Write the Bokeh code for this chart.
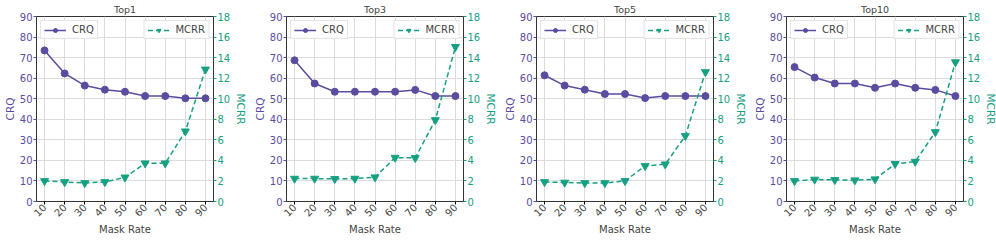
import math
from bokeh.plotting import figure
from bokeh.models import Range1d, LinearAxis, FixedTicker, Legend, LegendItem
from bokeh.layouts import row
from bokeh.embed import file_html
from bokeh.resources import INLINE

# ---------------- data ----------------
mask_rate = [10, 20, 30, 40, 50, 60, 70, 80, 90]
titles = ["Top1", "Top3", "Top5", "Top10"]

crq_top1 = [73.5, 62.3, 56.4, 54.4, 53.4, 51.3, 51.3, 50.2, 50.2]
crq_top3 = [68.7, 57.4, 53.4, 53.4, 53.4, 53.4, 54.3, 51.3, 51.3]
crq_top5 = [61.4, 56.4, 54.4, 52.3, 52.3, 50.3, 51.3, 51.3, 51.3]
crq_top10 = [65.4, 60.3, 57.4, 57.4, 55.3, 57.4, 55.3, 54.3, 51.3]

mcrr_top1 = [2.0, 1.9, 1.8, 1.9, 2.35, 3.72, 3.72, 6.83, 12.85]
mcrr_top3 = [2.23, 2.23, 2.2, 2.23, 2.36, 4.27, 4.24, 7.93, 15.05]
mcrr_top5 = [1.9, 1.85, 1.8, 1.8, 2.0, 3.46, 3.62, 6.38, 12.6]
mcrr_top10 = [2.0, 2.14, 2.1, 2.07, 2.17, 3.66, 3.88, 6.76, 13.56]

crq_series = [crq_top1, crq_top3, crq_top5, crq_top10]
mcrr_series = [mcrr_top1, mcrr_top3, mcrr_top5, mcrr_top10]

crq_ticks = [0, 10, 20, 30, 40, 50, 60, 70, 80, 90]
mcrr_ticks = [0, 2, 4, 6, 8, 10, 12, 14, 16, 18]

X_MIN, X_MAX = 6, 94
CRQ_MAX, MCRR_MAX = 90, 18

PURPLE = "#5b4ca0"
TEAL = "#16a082"
FONT = "DejaVu Sans"

figs = []
for i in range(4):
    p = figure(frame_width=177, height=238, output_backend="svg", toolbar_location=None,
               x_range=Range1d(X_MIN, X_MAX), y_range=Range1d(0, CRQ_MAX),
               min_border_left=35, min_border_right=35,
               min_border_top=0, min_border_bottom=0)
    p.extra_y_ranges = {"mcrr": Range1d(0, MCRR_MAX)}

    p.title.text = titles[i]
    p.title.align = "center"
    p.title.text_font = FONT
    p.title.text_font_size = "9.5px"
    p.title.text_font_style = "normal"
    p.title.standoff = 3

    p.outline_line_color = "#333333"
    p.outline_line_width = 1

    # x axis
    xa = p.xaxis[0]
    xa.ticker = FixedTicker(ticks=mask_rate)
    xa.major_label_orientation = math.pi / 4
    xa.axis_label = "Mask Rate"
    xa.axis_label_text_font = FONT
    xa.axis_label_text_font_size = "10px"
    xa.axis_label_text_font_style = "normal"
    xa.axis_label_standoff = 1
    xa.major_label_text_font = FONT
    xa.major_label_text_font_size = "10px"
    xa.major_label_standoff = 1
    xa.major_tick_out = 3
    xa.major_tick_in = 0
    xa.minor_tick_out = 0
    xa.minor_tick_in = 0
    xa.axis_line_color = "#333333"

    # left y axis
    ya = p.yaxis[0]
    ya.ticker = FixedTicker(ticks=crq_ticks)
    ya.axis_label = "CRQ"
    ya.axis_label_text_color = PURPLE
    ya.axis_label_text_font = FONT
    ya.axis_label_text_font_size = "10.5px"
    ya.axis_label_text_font_style = "normal"
    ya.axis_label_standoff = 1
    ya.major_label_text_color = PURPLE
    ya.major_label_text_font = FONT
    ya.major_label_text_font_size = "10px"
    ya.major_label_standoff = 1
    ya.major_tick_out = 3
    ya.major_tick_in = 0
    ya.major_tick_line_color = PURPLE
    ya.minor_tick_out = 0
    ya.minor_tick_in = 0
    ya.axis_line_color = "#333333"

    # right y axis
    ra = LinearAxis(y_range_name="mcrr", ticker=FixedTicker(ticks=mcrr_ticks))
    ra.axis_label = "MCRR"
    ra.axis_label_text_color = TEAL
    ra.axis_label_text_font = FONT
    ra.axis_label_text_font_size = "10.5px"
    ra.axis_label_text_font_style = "normal"
    ra.axis_label_standoff = 2
    ra.major_label_text_color = TEAL
    ra.major_label_text_font = FONT
    ra.major_label_text_font_size = "10px"
    ra.major_label_standoff = 1
    ra.major_tick_out = 3
    ra.major_tick_in = 0
    ra.major_tick_line_color = TEAL
    ra.minor_tick_out = 0
    ra.minor_tick_in = 0
    ra.axis_line_color = "#333333"
    p.add_layout(ra, "right")

    p.xgrid.ticker = FixedTicker(ticks=mask_rate)
    p.xgrid.grid_line_color = "#dcdcdc"
    p.ygrid.grid_line_color = "#dcdcdc"

    l1 = p.line(mask_rate, crq_series[i], color=PURPLE, line_width=1.5)
    s1 = p.scatter(mask_rate, crq_series[i], marker="circle", size=7, color=PURPLE)
    l2 = p.line(mask_rate, mcrr_series[i], color=TEAL, line_width=1.5,
                line_dash="5 3", y_range_name="mcrr")
    s2 = p.scatter(mask_rate, mcrr_series[i], marker="inverted_triangle", size=8,
                   color=TEAL, y_range_name="mcrr")

    for items, loc in (([LegendItem(label="CRQ", renderers=[l1, s1])], "top_left"),
                       ([LegendItem(label="MCRR", renderers=[l2, s2])], "top_right")):
        lg = Legend(items=items, location=loc)
        lg.label_text_font = FONT
        lg.label_text_font_size = "10px"
        lg.label_height = 10
        lg.glyph_height = 10
        lg.glyph_width = 22
        lg.label_standoff = 6
        lg.padding = 3
        lg.spacing = 0
        lg.margin = 4
        lg.border_line_color = "#cccccc"
        lg.background_fill_alpha = 0.85
        p.add_layout(lg, "center")

    figs.append(p)

layout = row(*figs, spacing=0)
open("out.html", "w").write(file_html(layout, INLINE))
